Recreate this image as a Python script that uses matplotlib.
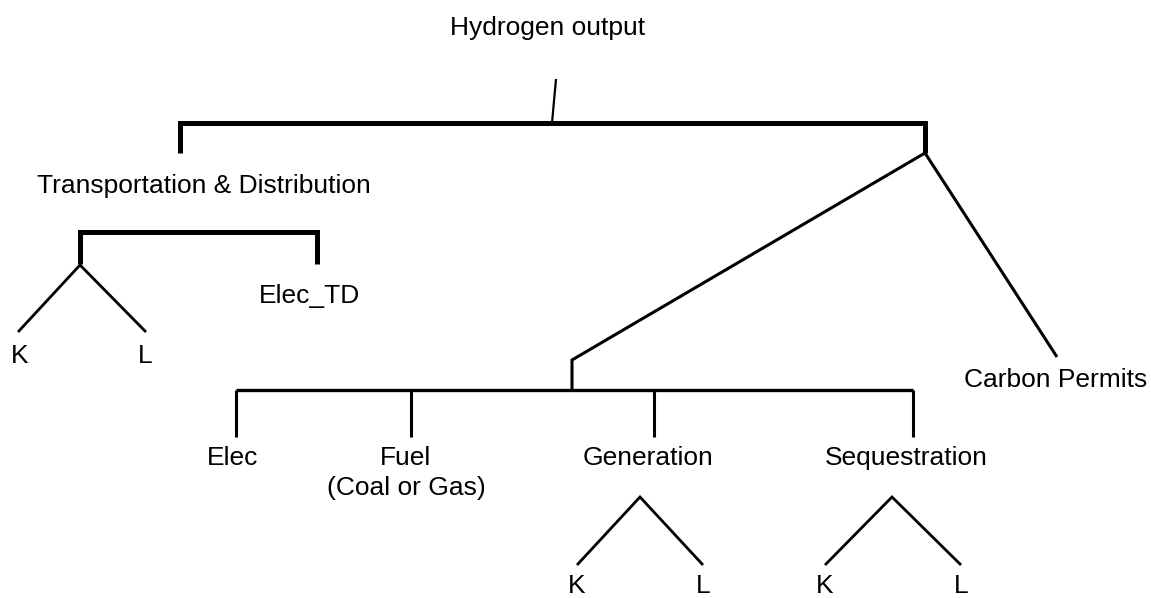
import matplotlib.pyplot as plt

plt.rcParams['font.family'] = ['Liberation Sans', 'DejaVu Sans']

# node labels and where they sit (pixel coords, y grows downwards)
labels = ['Hydrogen output', 'Transportation & Distribution', 'Elec_TD',
          'K', 'L', 'Carbon Permits', 'Elec', 'Fuel', '(Coal or Gas)',
          'Generation', 'Sequestration', 'K', 'L', 'K', 'L']
label_x = [548, 204, 310, 20, 145, 1056, 233, 406, 406, 648, 906,
           577, 703, 825, 961]
label_y = [35, 193, 303, 363, 363, 387, 465, 465, 495, 465, 465,
           593, 593, 593, 593]

# tree branches: (x points, y points, line width)
branches = [
    ([556, 552], [79, 123], 1.6),
    ([180, 180, 925, 925], [153, 123, 123, 153], 3.6),
    ([80, 80, 317, 317], [264, 232, 232, 264], 3.6),
    ([18, 80, 146], [332, 265, 332], 2.0),
    ([1057, 925, 572, 572], [357, 153, 360, 390], 2.2),
    ([236, 913], [390, 390], 2.4),
    ([236, 236], [390, 437], 2.2),
    ([411, 411], [390, 437], 2.2),
    ([654, 654], [390, 437], 2.2),
    ([913, 913], [390, 437], 2.2),
    ([577, 640, 703], [565, 497, 565], 2.0),
    ([825, 892, 961], [565, 497, 565], 2.0),
]

fig = plt.figure(figsize=(11.51, 5.98), dpi=100)
ax = fig.add_axes([0, 0, 1, 1])
ax.set_xlim(0, 1151)
ax.set_ylim(598, 0)
ax.axis('off')

for xs, ys, lw in branches:
    ax.plot(xs, ys, color='black', linewidth=lw,
            solid_joinstyle='miter', solid_capstyle='butt')

for text, x, y in zip(labels, label_x, label_y):
    ax.text(x, y, text, ha='center', va='baseline', fontsize=19,
            color='black')

fig.savefig('out.png', dpi=100, facecolor='white')
